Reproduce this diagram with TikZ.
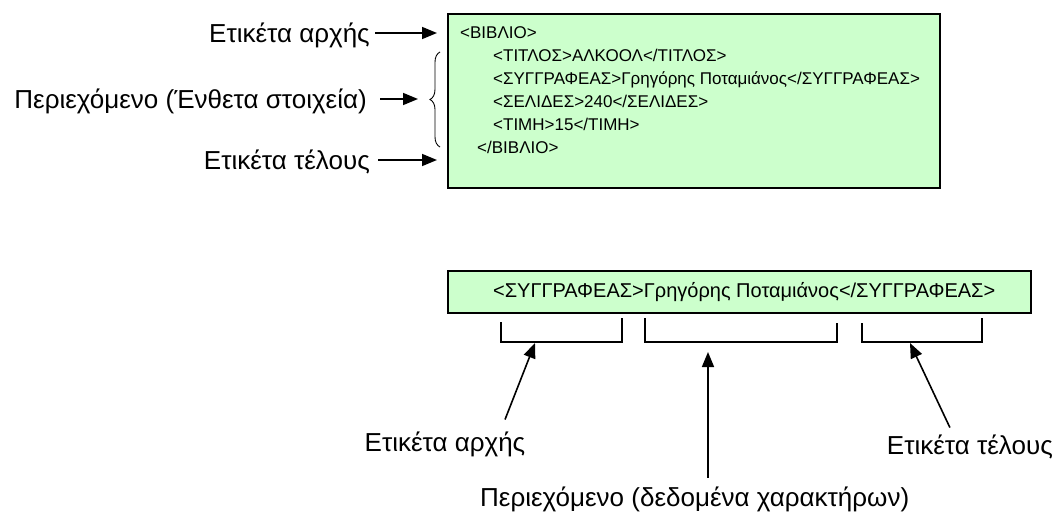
\documentclass[tikz,border=0pt]{standalone}
\usepackage{fontspec}
\setmainfont{Liberation Sans}
\usepackage{tikz}
\usetikzlibrary{positioning,arrows.meta,decorations.pathreplacing}
\definecolor{xmlgreen}{HTML}{CCFFCC}

\begin{document}
\begin{tikzpicture}[x=1pt, y=1pt, every node/.style={inner sep=0pt},
  lbl/.style={font=\fontsize{26}{31}\selectfont, text height=18.5pt, text depth=0pt},
  tag/.style={font=\fontsize{17}{20}\selectfont, text height=12pt, text depth=0pt, anchor=west},
  arr/.style={-{Triangle[length=15pt,width=12pt]}, line width=1.6pt},
  brk/.style={line width=1.4pt}]
  \useasboundingbox (0,0) rectangle (1058,-513);

  % the BIBLIO element with its children
  \node[draw, line width=1.6pt, fill=xmlgreen, minimum width=492pt, minimum height=174pt, anchor=north west] (book) at (447,-13) {};
  \node[tag] (open) at (460,-33) {<ΒΙΒΛΙΟ>};
  \node[tag] (title) at (493,-56) {<ΤΙΤΛΟΣ>ΑΛΚΟΟΛ</ΤΙΤΛΟΣ>};
  \node[tag] (author) at (493,-79) {<ΣΥΓΓΡΑΦΕΑΣ>Γρηγόρης Ποταμιάνος</ΣΥΓΓΡΑΦΕΑΣ>};
  \node[tag] (pages) at (493,-102) {<ΣΕΛΙΔΕΣ>240</ΣΕΛΙΔΕΣ>};
  \node[tag] (price) at (493,-125) {<ΤΙΜΗ>15</ΤΙΜΗ>};
  \node[tag] (close) at (477,-148) {</ΒΙΒΛΙΟ>};

  \node[lbl, anchor=east] (startlbl) at (370,-33) {Ετικέτα αρχής};
  \node[lbl, anchor=east] (contlbl) at (367,-99) {Περιεχόμενο (Ένθετα στοιχεία)};
  \node[lbl, anchor=east] (endlbl) at (370,-160) {Ετικέτα τέλους};

  \coordinate (bracetop) at (440,-52);
  \coordinate (bracebot) at (440,-147);
  \coordinate (bracetip) at (418,-99);
  \draw[line width=0.9pt, decorate, decoration={brace, amplitude=10pt}] (bracebot) -- (bracetop);

  \draw[arr] ([xshift=5pt]startlbl.east) -- ([xshift=-10pt]book.west |- startlbl.east);
  \draw[arr] ([xshift=13pt]contlbl.east) -- (bracetip);
  \draw[arr] ([xshift=8pt]endlbl.east) -- ([xshift=-10pt]book.west |- endlbl.east);

  % one element split into its parts
  \node[draw, line width=1.6pt, fill=xmlgreen, minimum width=583pt, minimum height=42pt, anchor=north west] (elem) at (447,-270) {};
  \node[tag, font=\fontsize{20}{24}\selectfont, text height=14pt] (elemtxt) at (493,-291) {<ΣΥΓΓΡΑΦΕΑΣ>Γρηγόρης Ποταμιάνος</ΣΥΓΓΡΑΦΕΑΣ>};

  \draw[brk] (501,-322) |- (622,-342) -- (622,-318);
  \draw[brk] (645,-318) |- (837,-342) -- (837,-323);
  \draw[brk] (862,-323) |- (982,-342) -- (982,-318);

  \node[lbl] (bstart) at (445,-442) {Ετικέτα αρχής};
  \node[lbl, anchor=west] (cdata) at (480,-497) {Περιεχόμενο (δεδομένα χαρακτήρων)};
  \node[lbl, anchor=east] (bend) at (1053,-445) {Ετικέτα τέλους};

  \coordinate (opentip) at (535,-343);
  \coordinate (datatip) at (708,-352);
  \coordinate (closetip) at (910,-343);
  \draw[arr] ([xshift=60pt,yshift=13pt]bstart.north) -- (opentip);
  \draw[arr, shorten <=10pt] (datatip |- cdata.north) -- (datatip);
  \draw[arr] ([xshift=-20pt,yshift=8pt]bend.north) -- (closetip);
\end{tikzpicture}
\end{document}
